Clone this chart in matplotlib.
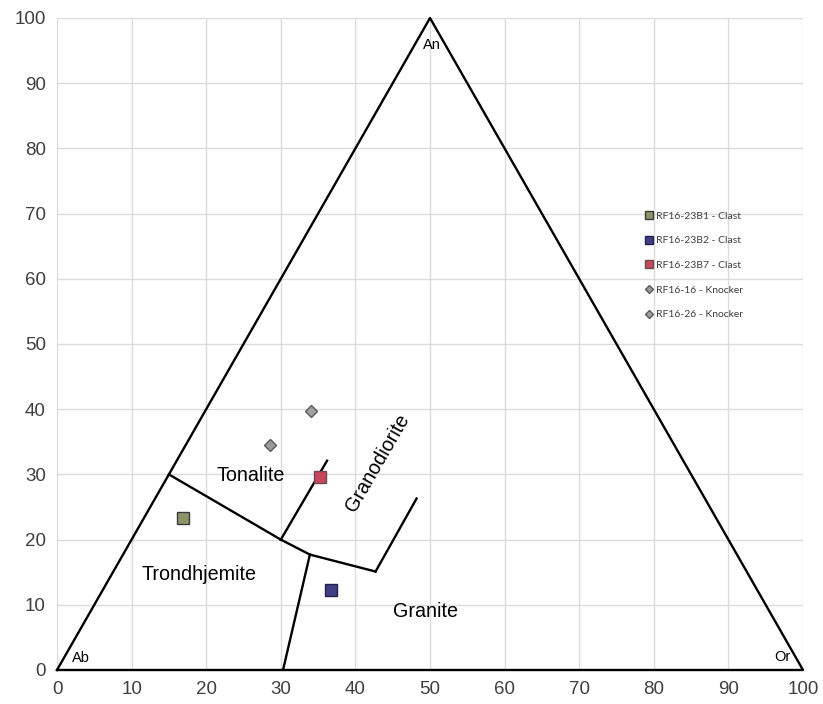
import matplotlib
matplotlib.use("Agg")
import matplotlib.pyplot as plt

plt.rcParams['font.family'] = ['Liberation Sans', 'DejaVu Sans']

# Triangle outline (Ab - An - Or)
tri_x = [0, 50, 100, 0]
tri_y = [0, 100, 0, 0]

# Field boundary lines
boundaries = [
    ([15, 30], [30, 20]),          # Tonalite / Trondhjemite
    ([30, 33.9], [20, 17.7]),
    ([30, 36.2], [20, 32.1]),      # Tonalite / Granodiorite
    ([30.3, 33.9], [0, 17.7]),     # Trondhjemite / Granite
    ([33.9, 42.7], [17.7, 15.1]),  # Granodiorite / Granite
    ([42.7, 48.2], [15.1, 26.3]),
]

# Samples
sample_names = ["RF16-23B1 - Clast", "RF16-23B2 - Clast", "RF16-23B7 - Clast",
                "RF16-16 - Knocker", "RF16-26 - Knocker"]
sample_x = [16.9, 36.7, 35.3, 28.5, 34.0]
sample_y = [23.3, 12.2, 29.6, 34.5, 39.8]
sample_marker = ['s', 's', 's', 'D', 'D']
sample_face = ['#8c9468', '#3f3f86', '#c8465e', '#9a9a9a', '#a0a0a0']
sample_edge = ['#3a3a3a', '#22224a', '#6a4a4a', '#5a5a5a', '#5a5a5a']
sample_size = [9, 9, 9, 6.5, 6.5]

fig = plt.figure(figsize=(8.23, 7.04), dpi=100)
ax = fig.add_axes([57/823, 34/704, 746/823, 652/704])

ax.set_xlim(0, 100)
ax.set_ylim(0, 100)
ax.set_xticks(range(0, 101, 10))
ax.set_yticks(range(0, 101, 10))
ax.grid(True, color='#dcdcdc', linewidth=1.0)
ax.set_axisbelow(True)
for s in ax.spines.values():
    s.set_visible(False)
ax.tick_params(length=0, labelsize=13.5, labelcolor='#404040', pad=8)

ax.plot(tri_x, tri_y, color='black', linewidth=1.7, clip_on=False, zorder=3)
for bx, by in boundaries:
    ax.plot(bx, by, color='black', linewidth=1.7, zorder=3)

for n, x, y, m, fc, ec, ms in zip(sample_names, sample_x, sample_y, sample_marker,
                                  sample_face, sample_edge, sample_size):
    ax.plot([x], [y], linestyle='none', marker=m, markersize=ms,
            markerfacecolor=fc, markeredgecolor=ec, markeredgewidth=1.0,
            label=n, zorder=4)

ax.text(50.2, 95.9, "An", fontsize=10.5, ha='center', va='center')
ax.text(3.2, 1.8, "Ab", fontsize=10.5, ha='center', va='center')
ax.text(97.2, 2.0, "Or", fontsize=10.5, ha='center', va='center')

ax.text(25.9, 29.8, "Tonalite", fontsize=14.2, ha='center', va='center')
ax.text(19.1, 14.7, "Trondhjemite", fontsize=14.2, ha='center', va='center')
ax.text(49.4, 8.9, "Granite", fontsize=14.2, ha='center', va='center')
ax.text(43.0, 31.7, "Granodiorite", fontsize=14.2, ha='center', va='center',
        rotation=60, rotation_mode='anchor')

leg = ax.legend(loc='upper left', bbox_to_anchor=(0.776, 0.718), frameon=False,
                prop={'family': 'Lato', 'size': 7.5}, handlelength=0.8,
                handletextpad=0.25, labelspacing=1.48, markerscale=0.6)
for t in leg.get_texts():
    t.set_color('#404040')

fig.savefig("out.png", dpi=100)
